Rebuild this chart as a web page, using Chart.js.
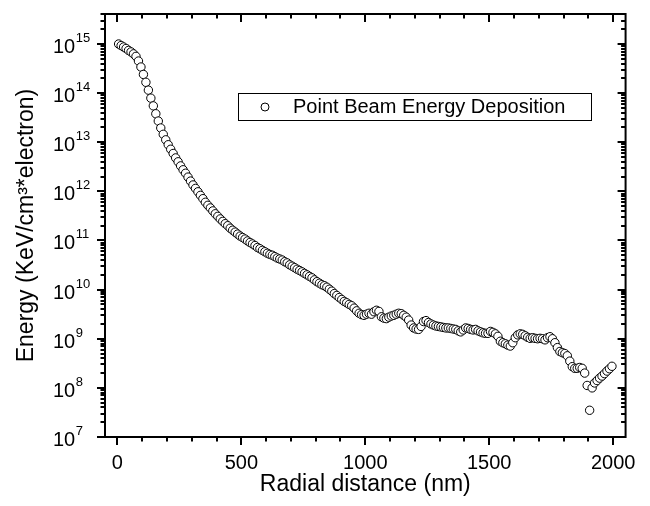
<!DOCTYPE html>
<html><head><meta charset="utf-8">
<script src="https://cdn.jsdelivr.net/npm/chart.js@4.4.1/dist/chart.umd.min.js"></script>
<style>html,body{margin:0;padding:0;background:#fff;}#wrap{width:650px;height:506px;}</style>
</head><body><div id="wrap"><canvas id="c" width="650" height="506"></canvas></div>
<script>
const radialDistance = [
5,15,25,35,45,55,65,75,85,95,
105,115,125,135,145,155,165,175,185,195,
205,215,225,235,245,255,265,275,285,295,
305,315,325,335,345,355,365,375,385,395,
405,415,425,435,445,455,465,475,485,495,
505,515,525,535,545,555,565,575,585,595,
605,615,625,635,645,655,665,675,685,695,
705,715,725,735,745,755,765,775,785,795,
805,815,825,835,845,855,865,875,885,895,
905,915,925,935,945,955,965,975,985,995,
1005,1015,1025,1035,1045,1055,1065,1075,1085,1095,
1105,1115,1125,1135,1145,1155,1165,1175,1185,1195,
1205,1215,1225,1235,1245,1255,1265,1275,1285,1295,
1305,1315,1325,1335,1345,1355,1365,1375,1385,1395,
1405,1415,1425,1435,1445,1455,1465,1475,1485,1495,
1505,1515,1525,1535,1545,1555,1565,1575,1585,1595,
1605,1615,1625,1635,1645,1655,1665,1675,1685,1695,
1705,1715,1725,1735,1745,1755,1765,1775,1785,1795,
1805,1815,1825,1835,1845,1855,1865,1875,1885,1895,
1905,1915,1925,1935,1945,1955,1965,1975,1985,1995];
const energy = [
1.0e15,9.3e14,8.7e14,8.1e14,7.4e14,6.9e14,6.3e14,5.6e14,4.5e14,3.4e14,
2.4e14,1.66e14,1.15e14,7.9e13,5.5e13,3.8e13,2.7e13,1.95e13,1.45e13,1.12e13,
8.9e12,7.2e12,5.9e12,4.8e12,4.0e12,3.3e12,2.75e12,2.34e12,1.95e12,1.62e12,
1.35e12,1.15e12,9.8e11,8.3e11,7.1e11,6.0e11,5.2e11,4.6e11,4.0e11,3.5e11,
3.1e11,2.75e11,2.45e11,2.2e11,2.0e11,1.78e11,1.62e11,1.48e11,1.35e11,1.23e11,
1.15e11,1.07e11,9.8e10,9.1e10,8.5e10,7.9e10,7.2e10,6.8e10,6.3e10,5.9e10,
5.5e10,5.2e10,5.0e10,4.7e10,4.4e10,4.2e10,4.0e10,3.7e10,3.5e10,3.2e10,
3.0e10,2.8e10,2.6e10,2.45e10,2.3e10,2.14e10,2.0e10,1.86e10,1.74e10,1.58e10,
1.45e10,1.35e10,1.26e10,1.2e10,1.12e10,1.02e10,9.3e9,8.3e9,7.6e9,6.9e9,
6.3e9,5.75e9,5.4e9,5.0e9,4.7e9,4.2e9,3.7e9,3.3e9,3.1e9,3.0e9,
3.16e9,3.3e9,3.16e9,3.55e9,3.8e9,3.6e9,2.8e9,2.63e9,2.57e9,2.75e9,
2.9e9,3.0e9,3.16e9,3.3e9,3.24e9,3.0e9,2.75e9,2.4e9,1.9e9,1.66e9,
1.58e9,1.55e9,1.78e9,2.24e9,2.34e9,2.14e9,2.0e9,1.9e9,1.82e9,1.78e9,
1.74e9,1.7e9,1.66e9,1.66e9,1.62e9,1.58e9,1.55e9,1.45e9,1.38e9,1.51e9,
1.66e9,1.62e9,1.55e9,1.51e9,1.55e9,1.45e9,1.38e9,1.32e9,1.29e9,1.29e9,
1.41e9,1.35e9,1.26e9,1.12e9,8.9e8,8.3e8,7.9e8,7.4e8,7.1e8,8.3e8,
1.05e9,1.2e9,1.26e9,1.23e9,1.15e9,1.07e9,1.02e9,1.05e9,1.02e9,1.0e9,
1.02e9,1.0e9,9.5e8,1.05e9,1.1e9,1.0e9,8.3e8,6.6e8,5.5e8,5.2e8,
5.0e8,4.5e8,3.5e8,2.7e8,2.5e8,2.5e8,2.6e8,2.5e8,2.0e8,1.12e8,
3.5e7,1.0e8,1.26e8,1.41e8,1.58e8,1.74e8,1.95e8,2.2e8,2.45e8,2.75e8];
const xTickValues = [0, 500, 1000, 1500, 2000];
const yTickExponents = [7, 8, 9, 10, 11, 12, 13, 14, 15];
const seriesLabel = 'Point Beam Energy Deposition';
const xTitle = 'Radial distance (nm)';
const yTitle = 'Energy (KeV/cm\u00B3*electron)';

const FONT = "'Liberation Sans', Arial, Helvetica, sans-serif";

const framePlugin = {
  id: 'framePlugin',
  afterDraw(chart) {
    const {ctx, chartArea: a, scales: {x, y}} = chart;
    ctx.save();
    ctx.strokeStyle = '#000';
    ctx.lineCap = 'butt';
    const seg = (x1, y1, x2, y2) => { ctx.beginPath(); ctx.moveTo(x1, y1); ctx.lineTo(x2, y2); ctx.stroke(); };
    ctx.lineWidth = 2;
    ctx.strokeRect(a.left, a.top, a.right - a.left, a.bottom - a.top);
    // x ticks (major every 500, minor every 100)
    for (let v = 0; v <= 2000; v += 100) {
      const px = Math.round(x.getPixelForValue(v));
      const len = (v % 500 === 0) ? 8 : 4.5;
      seg(px, a.bottom, px, a.bottom + len);
      seg(px, a.top, px, a.top + len);
    }
    // y ticks (log)
    for (const e of yTickExponents) {
      for (let m = 1; m <= 9; m++) {
        const v = m * Math.pow(10, e);
        if (v < y.min || v > y.max) continue;
        const py = Math.round(y.getPixelForValue(v));
        const len = m === 1 ? 8 : 4.5;
        seg(a.left, py, a.left - len, py);
        seg(a.right, py, a.right - len, py);
      }
    }
    // y tick labels with superscript exponents
    ctx.fillStyle = '#000';
    ctx.textAlign = 'left';
    ctx.textBaseline = 'alphabetic';
    for (const e of yTickExponents) {
      const py = y.getPixelForValue(Math.pow(10, e));
      ctx.font = '20px ' + FONT;
      ctx.fillText('10', 53, py + 9);
      const w = ctx.measureText('10').width;
      ctx.font = '13px ' + FONT;
      ctx.fillText(String(e), 53 + w + 0.5, py - 2);
    }
    // legend
    const lx = 238.5, ly = 93.5, lw = 353, lh = 27;
    ctx.lineWidth = 1;
    ctx.strokeRect(lx, ly, lw, lh);
    ctx.beginPath();
    ctx.arc(265, 107, 4, 0, Math.PI * 2);
    ctx.fillStyle = '#fff';
    ctx.fill();
    ctx.strokeStyle = '#000';
    ctx.stroke();
    ctx.fillStyle = '#000';
    ctx.font = '20px ' + FONT;
    ctx.textBaseline = 'middle';
    ctx.fillText(chart.data.datasets[0].label, 293, 107);
    ctx.restore();
  }
};

new Chart(document.getElementById('c'), {
  type: 'scatter',
  data: {
    datasets: [{
      label: seriesLabel,
      data: radialDistance.map((d, i) => ({x: d, y: energy[i]})),
      pointStyle: 'circle',
      pointRadius: 4.2,
      pointBorderWidth: 1,
      borderColor: '#000',
      backgroundColor: '#fff',
      pointBackgroundColor: '#fff',
      pointBorderColor: '#000',
      showLine: false
    }]
  },
  options: {
    responsive: false,
    animation: false,
    devicePixelRatio: 1,
    layout: {padding: {top: 14, right: 24, left: 0, bottom: 0}},
    plugins: {legend: {display: false}, tooltip: {enabled: false}},
    scales: {
      x: {
        type: 'linear', min: -50, max: 2050,
        afterBuildTicks: s => { s.ticks = xTickValues.map(v => ({value: v})); },
        afterFit: s => { s.height = 69; },
        grid: {display: false, drawTicks: false},
        border: {display: false},
        ticks: {color: '#000', font: {family: FONT, size: 20}, padding: 14, maxRotation: 0, autoSkip: false,
                callback: v => String(v)},
        title: {display: true, text: xTitle, color: '#000', font: {family: FONT, size: 23}, padding: {top: 0, bottom: 8}}
      },
      y: {
        type: 'logarithmic', min: 1e7, max: 4.08e15,
        afterBuildTicks: s => { s.ticks = yTickExponents.map(e => ({value: Math.pow(10, e)})); },
        afterFit: s => { s.width = 105; },
        grid: {display: false, drawTicks: false},
        border: {display: false},
        ticks: {display: false},
        title: {display: true, text: yTitle, color: '#000', font: {family: FONT, size: 23}, padding: {top: 13, bottom: 0}}
      }
    }
  },
  plugins: [framePlugin]
});
</script></body></html>
